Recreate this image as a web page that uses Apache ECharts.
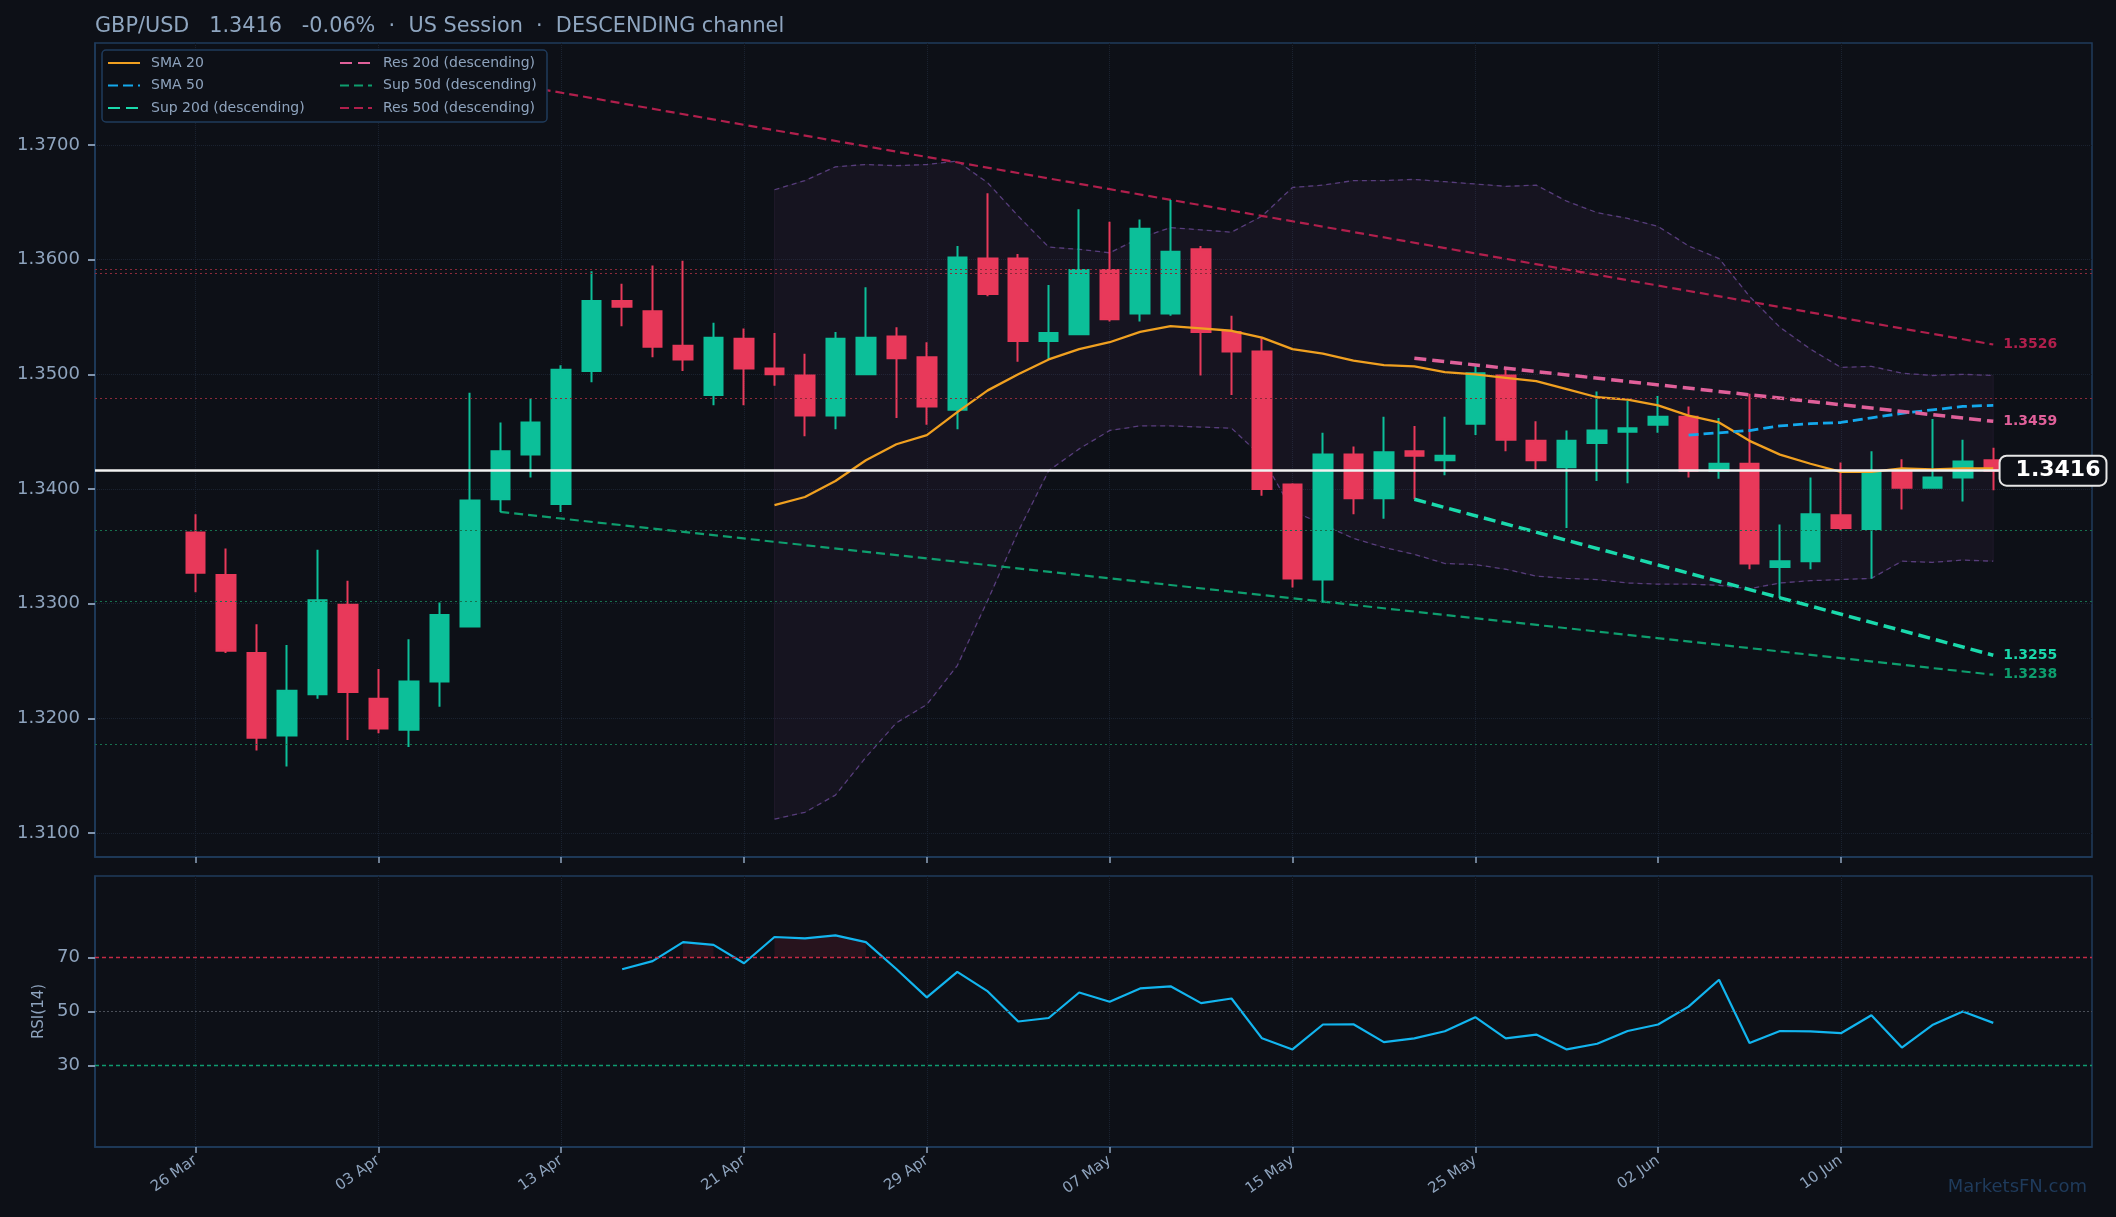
<!DOCTYPE html>
<html>
<head>
<meta charset="utf-8">
<script src="https://cdn.jsdelivr.net/npm/echarts@6/dist/echarts.min.js"></script>
<style>
html, body { margin: 0; padding: 0; background: #0d1017; }
#chart { width: 2116px; height: 1217px; }
</style>
</head>
<body>
<div id="chart"></div>
<script>
// daily candles, index 0..59
const dates = ['26 Mar','27 Mar','28 Mar','31 Mar','01 Apr','02 Apr','03 Apr','04 Apr','07 Apr','08 Apr',
    '09 Apr','10 Apr','13 Apr','14 Apr','15 Apr','16 Apr','17 Apr','18 Apr','21 Apr','22 Apr',
    '23 Apr','24 Apr','25 Apr','28 Apr','29 Apr','30 Apr','01 May','02 May','05 May','06 May',
    '07 May','08 May','09 May','12 May','13 May','14 May','15 May','18 May','19 May','20 May',
    '21 May','22 May','25 May','26 May','27 May','28 May','29 May','30 May','02 Jun','03 Jun',
    '04 Jun','05 Jun','06 Jun','09 Jun','10 Jun','11 Jun','12 Jun','13 Jun','16 Jun','17 Jun'];
const tickIdx = [0, 6, 12, 18, 24, 30, 36, 42, 48, 54];
const priceTicks = [1.31, 1.32, 1.33, 1.34, 1.35, 1.36, 1.37];
const rsiTicks = [30, 50, 70];

const opens = [1.3362,1.3325,1.3257,1.3185,1.3221,1.3299,1.3217,1.3190,1.3232,1.3280,
    1.3391,1.3430,1.3387,1.3503,1.3564,1.3555,1.3525,1.3482,1.3531,1.3505,
    1.3499,1.3464,1.3500,1.3533,1.3515,1.3469,1.3601,1.3601,1.3529,1.3535,
    1.3591,1.3553,1.3553,1.3609,1.3537,1.3520,1.3404,1.3321,1.3430,1.3392,
    1.3433,1.3425,1.3457,1.3499,1.3442,1.3419,1.3440,1.3450,1.3456,1.3463,
    1.3416,1.3422,1.3332,1.3337,1.3377,1.3365,1.3416,1.3401,1.3410,1.3425];
const highs = [1.3378,1.3348,1.3282,1.3264,1.3347,1.3320,1.3243,1.3269,1.3301,1.3484,
    1.3458,1.3479,1.3508,1.3590,1.3579,1.3595,1.3599,1.3545,1.3540,1.3536,
    1.3518,1.3537,1.3576,1.3541,1.3528,1.3612,1.3658,1.3605,1.3578,1.3644,
    1.3633,1.3635,1.3652,1.3612,1.3551,1.3532,1.3405,1.3449,1.3437,1.3463,
    1.3455,1.3463,1.3508,1.3506,1.3459,1.3451,1.3485,1.3477,1.3481,1.3472,
    1.3462,1.3483,1.3369,1.3410,1.3423,1.3433,1.3426,1.3461,1.3443,1.3436];
const lows = [1.3310,1.3257,1.3172,1.3158,1.3217,1.3181,1.3187,1.3175,1.3210,1.3280,
    1.3380,1.3410,1.3380,1.3493,1.3542,1.3515,1.3503,1.3473,1.3473,1.3490,
    1.3446,1.3452,1.3500,1.3462,1.3456,1.3452,1.3568,1.3511,1.3513,1.3535,
    1.3546,1.3546,1.3551,1.3499,1.3482,1.3394,1.3314,1.3301,1.3378,1.3374,
    1.3391,1.3412,1.3447,1.3433,1.3417,1.3366,1.3407,1.3405,1.3449,1.3410,
    1.3409,1.3330,1.3305,1.3330,1.3364,1.3322,1.3382,1.3401,1.3389,1.3399];
const closes = [1.3327,1.3259,1.3183,1.3224,1.3303,1.3223,1.3191,1.3232,1.3290,1.3390,
    1.3433,1.3458,1.3504,1.3564,1.3559,1.3524,1.3513,1.3532,1.3505,1.3500,
    1.3464,1.3531,1.3532,1.3514,1.3472,1.3602,1.3570,1.3529,1.3536,1.3591,
    1.3548,1.3627,1.3607,1.3537,1.3520,1.3400,1.3322,1.3430,1.3392,1.3432,
    1.3429,1.3429,1.3501,1.3443,1.3425,1.3442,1.3451,1.3453,1.3463,1.3416,
    1.3422,1.3335,1.3337,1.3378,1.3366,1.3415,1.3401,1.3410,1.3424,1.3416];

// SMA 20 and bollinger bands start at index 19
const sma20Start = 19;
const sma20 = [1.3386,1.3393,1.3407,1.3425,1.3439,1.3447,1.3467,1.3486,1.3500,1.3513,
    1.3522,1.3528,1.3537,1.3542,1.3540,1.3538,1.3532,1.3522,1.3518,1.3512,
    1.3508,1.3507,1.3502,1.3500,1.3497,1.3494,1.3487,1.3480,1.3478,1.3473,
    1.3464,1.3458,1.3442,1.3430,1.3422,1.3415,1.3415,1.3418,1.3417,1.3418,1.3418];
const bbUpper = [1.3661,1.3669,1.3681,1.3683,1.3682,1.3683,1.3686,1.3667,1.3638,1.3611,
    1.3609,1.3606,1.3619,1.3628,1.3626,1.3624,1.3638,1.3663,1.3665,1.3669,
    1.3669,1.3670,1.3668,1.3666,1.3664,1.3665,1.3651,1.3641,1.3636,1.3629,
    1.3612,1.3601,1.3568,1.3541,1.3522,1.3506,1.3507,1.3501,1.3499,1.3500,1.3499];
const bbLower = [1.3112,1.3118,1.3133,1.3166,1.3196,1.3212,1.3246,1.3303,1.3363,1.3416,
    1.3435,1.3451,1.3455,1.3455,1.3454,1.3453,1.3428,1.3381,1.3369,1.3357,
    1.3349,1.3343,1.3335,1.3334,1.3330,1.3324,1.3322,1.3321,1.3318,1.3317,
    1.3317,1.3316,1.3313,1.3318,1.3320,1.3321,1.3322,1.3337,1.3336,1.3338,1.3337];

const sma50Start = 49;
const sma50 = [1.3447,1.3449,1.3451,1.3455,1.3457,1.3458,1.3462,1.3466,1.3469,1.3472,1.3473];

// channel lines: [start value, end value]
const res50d = [1.3755, 1.3526];
const sup50d = [1.3380, 1.3238];
const res20d = [1.3514, 1.3459];
const sup20d = [1.3391, 1.3255];
const start50d = 10, start20d = 40, lastIdx = 59;

const resLevels = [1.3592, 1.3588, 1.3479];
const supLevels = [1.3364, 1.3302, 1.3177];
const lastPrice = 1.3416;

const rsiStart = 14;
const rsi = [65.6,68.6,75.6,74.6,67.8,77.5,77.0,78.1,75.6,65.7,55.2,64.6,57.4,46.3,47.6,
    57.0,53.6,58.5,59.3,53.1,54.8,40.1,36.0,45.2,45.3,38.7,40.1,42.7,47.9,40.1,
    41.5,36.0,38.1,42.8,45.2,51.8,61.7,38.4,42.8,42.7,42.0,48.6,36.7,45.0,50.0,45.8];

const bg = '#0d1017';
const txt = '#8ea3bd';
const frame = '#1f3b5c';
const grn = '#0cbf99';
const red = '#e8395a';

const candles = opens.map((o, i) => [i, o, closes[i], lows[i], highs[i]]);
const withIdx = (arr, s) => arr.map((v, i) => [i + s, v]);
const overbought = rsi.map((v, i) => [i + rsiStart, v > 70 ? v : '-']);

const chart = echarts.init(document.getElementById('chart'), null, {renderer: 'canvas'});

// axis line sits on the grid border, same colour
const frameLine = {show: true, onZero: false, lineStyle: {color: frame, width: 1.5}};

function xAxisOf(gridIndex, showLabels) {
    return {
        gridIndex: gridIndex, type: 'value', min: -3.3, max: 62.24,
        axisLine: frameLine,
        axisTick: {show: true, customValues: tickIdx, length: 6, lineStyle: {color: txt, width: 1.5}},
        axisLabel: {
            show: showLabels, customValues: tickIdx, rotate: 35, margin: 12,
            color: txt, fontSize: 15, formatter: v => dates[v] || ''
        },
        splitLine: {show: true, lineStyle: {color: '#1a2230', type: 'dotted', width: 1}}
    };
}

function chanLine(name, vals, s, color, width, dash, z) {
    return {
        name: name, type: 'line', xAxisIndex: 0, yAxisIndex: 0, z: z || 3,
        data: [[s, vals[0]], [lastIdx, vals[1]]],
        symbol: 'none', silent: true,
        lineStyle: {color: color, width: width, type: dash},
        itemStyle: {color: color},
        endLabel: {
            show: true, distance: 10, color: color, fontWeight: 'bold', fontSize: 14,
            fontFamily: 'DejaVu Sans',
            formatter: p => p.value[1].toFixed(4)
        }
    };
}

const levelLines = resLevels.map(v => ({yAxis: v, lineStyle: {color: '#8a2a3a', type: [2, 3], width: 1.2}}))
    .concat(supLevels.map(v => ({yAxis: v, lineStyle: {color: '#17704e', type: [2, 3], width: 1.2}})));

const legendBase = {
    orient: 'vertical', top: 51, z: 20, itemWidth: 32, itemHeight: 14, itemGap: 8.5,
    itemStyle: {opacity: 0},
    textStyle: {color: txt, fontSize: 14, padding: [0, 0, 0, 6]}
};

const option = {
    backgroundColor: bg,
    animation: false,
    textStyle: {fontFamily: 'DejaVu Sans'},
    title: {
        text: 'GBP/USD   1.3416   -0.06%  ·  US Session  ·  DESCENDING channel',
        left: 90, top: 11,
        textStyle: {color: '#8fa6c0', fontSize: 20.8, fontWeight: 'normal', fontFamily: 'DejaVu Sans'}
    },
    graphic: [
        {type: 'rect', z: 10, shape: {x: 102, y: 50, width: 445, height: 72, r: 4},
            style: {fill: bg, stroke: frame, lineWidth: 1.5}},
        {type: 'text', z: 10, right: 29, top: 1178,
            style: {text: 'MarketsFN.com', fill: '#1f3b5c', fontSize: 18, fontFamily: 'DejaVu Sans'}}
    ],
    legend: [
        Object.assign({left: 102, data: ['SMA 20', 'SMA 50', 'Sup 20d (descending)']}, legendBase),
        Object.assign({left: 334, data: ['Res 20d (descending)', 'Sup 50d (descending)', 'Res 50d (descending)']}, legendBase)
    ],
    grid: [
        {left: 95, right: 24, top: 43, height: 814, show: true, backgroundColor: bg, borderColor: frame, borderWidth: 1.5},
        {left: 95, right: 24, top: 876, height: 271, show: true, backgroundColor: bg, borderColor: frame, borderWidth: 1.5}
    ],
    xAxis: [xAxisOf(0, false), xAxisOf(1, true)],
    yAxis: [
        {gridIndex: 0, type: 'value', min: 1.3079, max: 1.3789, position: 'left',
            axisLine: frameLine,
            axisTick: {show: true, inside: false, customValues: priceTicks, length: 7,
                lineStyle: {color: txt, width: 1.8}},
            axisLabel: {customValues: priceTicks, margin: 15, color: txt, fontSize: 18,
                formatter: v => v.toFixed(4)},
            splitLine: {show: true, lineStyle: {color: '#1a2230', type: 'dotted'}}},
        {gridIndex: 1, type: 'value', min: 0, max: 100, position: 'left',
            name: 'RSI(14)', nameLocation: 'middle', nameGap: 43, nameRotate: 90,
            nameTextStyle: {color: txt, fontSize: 15},
            axisLine: frameLine,
            axisTick: {show: true, inside: false, customValues: rsiTicks, length: 7,
                lineStyle: {color: txt, width: 1.8}},
            axisLabel: {customValues: rsiTicks, margin: 15, color: txt, fontSize: 18},
            splitLine: {show: false}}
    ],
    series: [
        // bollinger band fill as one polygon
        {
            name: 'bbFill', type: 'custom', xAxisIndex: 0, yAxisIndex: 0, silent: true, z: 1,
            data: [[sma20Start, bbUpper[0]]],
            renderItem: (params, api) => {
                const up = bbUpper.map((v, i) => api.coord([i + sma20Start, v]));
                const lo = bbLower.map((v, i) => api.coord([i + sma20Start, v])).reverse();
                return {
                    type: 'polygon', shape: {points: up.concat(lo)},
                    style: {fill: 'rgba(130,80,150,0.075)', stroke: 'rgba(130,80,150,0.12)', lineWidth: 1}
                };
            }
        },
        {name: 'bbUp', type: 'line', data: withIdx(bbUpper, sma20Start), symbol: 'none', silent: true, z: 2,
            lineStyle: {color: '#573d7c', width: 1.3, type: [5, 4]}},
        {name: 'bbLow', type: 'line', data: withIdx(bbLower, sma20Start), symbol: 'none', silent: true, z: 2,
            lineStyle: {color: '#573d7c', width: 1.3, type: [5, 4]}},
        chanLine('Res 50d (descending)', res50d, start50d, '#b01f4c', 2.2, [9, 5]),
        chanLine('Sup 50d (descending)', sup50d, start50d, '#0e9e6e', 2.2, [9, 5]),
        {
            name: 'candles', type: 'candlestick', xAxisIndex: 0, yAxisIndex: 0, z: 4,
            data: candles, barWidth: 19, silent: true,
            itemStyle: {color: grn, color0: red, borderColor: grn, borderColor0: red, borderWidth: 2},
            markLine: {
                silent: true, symbol: 'none', z: 6, precision: 6,
                data: levelLines.concat([[
                    {coord: [-3.3, lastPrice], lineStyle: {color: '#f2f2f2', width: 2.5, type: 'solid'}},
                    {coord: [59.24, lastPrice],
                        label: {show: true, position: 'end', distance: 0, formatter: lastPrice.toFixed(4),
                            color: '#ffffff', fontSize: 22, fontWeight: 'bold', fontFamily: 'DejaVu Sans',
                            backgroundColor: bg, borderColor: '#e6e6e6', borderWidth: 2, borderRadius: 6,
                            padding: [3, 5, 3, 15]}}
                ]]),
                label: {show: false}
            }
        },
        {name: 'SMA 20', type: 'line', data: withIdx(sma20, sma20Start), symbol: 'none', silent: true, z: 5,
            lineStyle: {color: '#f0a020', width: 2.3}, itemStyle: {color: '#f0a020'}},
        {name: 'SMA 50', type: 'line', data: withIdx(sma50, sma50Start), symbol: 'none', silent: true, z: 5,
            lineStyle: {color: '#14a8ec', width: 2.8, type: [10, 5]}, itemStyle: {color: '#14a8ec'}},
        chanLine('Res 20d (descending)', res20d, start20d, '#e0609a', 3.5, [12, 6], 5),
        chanLine('Sup 20d (descending)', sup20d, start20d, '#1ad9ac', 3.5, [12, 6], 5),
        // RSI pane
        {name: 'obFill', type: 'line', xAxisIndex: 1, yAxisIndex: 1, data: overbought, symbol: 'none', silent: true,
            lineStyle: {opacity: 0}, areaStyle: {origin: 70, color: 'rgba(200,40,70,0.2)'}, z: 2},
        {name: 'RSI', type: 'line', xAxisIndex: 1, yAxisIndex: 1, data: withIdx(rsi, rsiStart), symbol: 'none', silent: true,
            lineStyle: {color: '#12b5ef', width: 2.2}, z: 4,
            markLine: {
                silent: true, symbol: 'none', label: {show: false}, precision: 4,
                data: [
                    {yAxis: 70, lineStyle: {color: '#c42a45', type: [4, 3], width: 1.4}},
                    {yAxis: 50, lineStyle: {color: '#4a4f58', type: [2, 2], width: 1}},
                    {yAxis: 30, lineStyle: {color: '#0f9a70', type: [4, 3], width: 1.4}}
                ]
            }}
    ]
};

chart.setOption(option);
</script>
</body>
</html>
